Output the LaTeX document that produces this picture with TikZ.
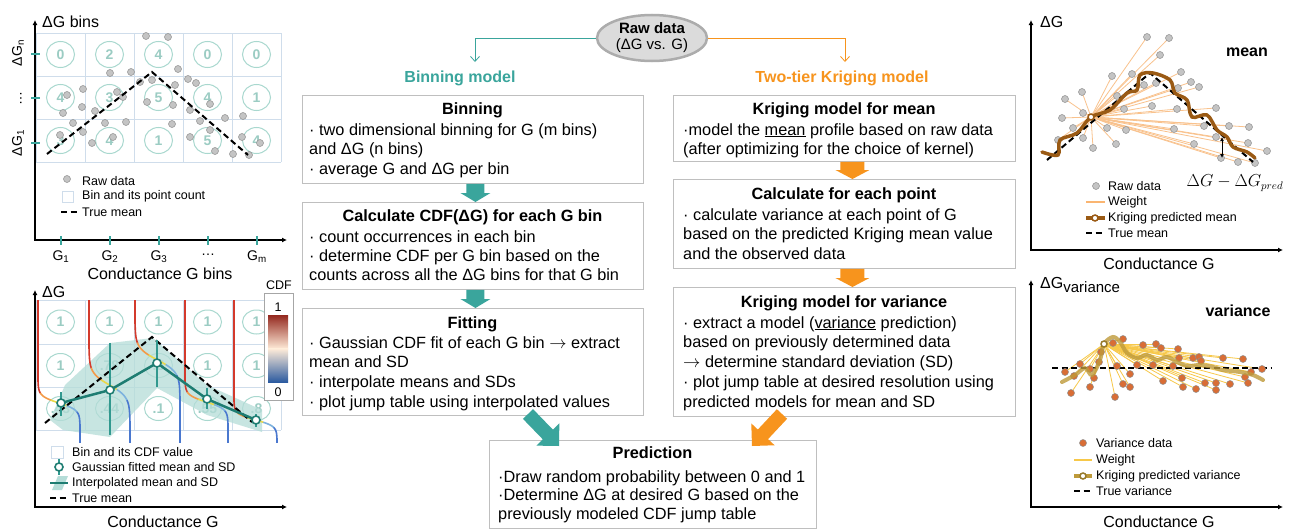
\documentclass[tikz,border=0pt]{standalone}
\usepackage{fontspec}
\setmainfont{Liberation Sans}
\usetikzlibrary{arrows.meta,shapes.geometric,calc}
\definecolor{tealA}{HTML}{3AA59C}
\definecolor{orng}{HTML}{F7941D}
\definecolor{gridc}{HTML}{CFDDEB}
\definecolor{circc}{HTML}{A9D8CF}
\definecolor{numc}{HTML}{9BCCC3}
\definecolor{dteal}{HTML}{1E7D72}
\definecolor{bandc}{HTML}{B5DDD8}
\definecolor{boxc}{HTML}{BFBFBF}
\definecolor{brownA}{HTML}{9A5A14}
\definecolor{wlo}{HTML}{F9C28D}
\definecolor{goldA}{HTML}{BE9A3A}
\definecolor{wly}{HTML}{F7C849}
\definecolor{dotv}{HTML}{D96D35}
\definecolor{dotg}{HTML}{C4C4C4}
\definecolor{dotgb}{HTML}{8F8F8F}
\definecolor{cdfR}{HTML}{D33A2C}
\definecolor{cdfO}{HTML}{F39A48}
\definecolor{cdfY}{HTML}{E9D84A}
\definecolor{cdfL}{HTML}{7DB2DE}
\definecolor{cdfB}{HTML}{4A78CF}
\definecolor{cbBlue}{HTML}{2C5BA0}
\newcommand{\sz}[1]{\fontsize{#1}{#1}\selectfont}
\newcommand{\rarr}{\ensuremath{\rightarrow}}
\tikzset{
 box/.style={draw=boxc, line width=0.9pt, fill=white, inner sep=0pt, anchor=north west},
 ttl/.style={font=\bfseries\sz{16.3}, inner sep=0pt, anchor=base},
 txt/.style={font=\sz{16.3}, inner sep=0pt, anchor=base west},
 lg/.style={font=\sz{12.5}, inner sep=0pt, anchor=west},
 axl/.style={font=\sz{16}, inner sep=0pt},
 num/.style={font=\bfseries\sz{14}, text=numc, inner sep=0pt},
 cell/.style={draw=gridc, line width=0.8pt},
 ring/.style={draw=circc, line width=1pt},
 axs/.style={line width=1.5pt, {Latex[length=5pt,width=5pt]}-{Latex[length=5pt,width=5pt]}},
 tmean/.style={black, line width=2pt, dash pattern=on 6pt off 3.5pt},
 gdot/.style={fill=dotg, draw=dotgb, line width=0.5pt},
 vdot/.style={fill=dotv, draw=dotgb, line width=0.5pt},
 tk/.style={tealA, line width=2pt},
 thinarr/.style={line width=0.8pt, -{Straight Barb[length=5pt,width=9pt]}},
}
\newcommand{\blines}[5]{\foreach \ln [count=\i] in {#5} \node[txt] (#1\i) at (#2,{#3+(\i-1)*#4}) {\ln};}
\newcommand{\blockarrow}[6]{%
 \coordinate (hb) at ($(#3)!#6!(#2)$);
 \fill[#1] ($(#2)!#4!90:(#3)$) -- ($(#2)!#4!-90:(#3)$) -- ($(hb)!#4!-90:(#3)$) -- ($(hb)!#5!-90:(#3)$) -- (#3) -- ($(hb)!#5!90:(#3)$) -- ($(hb)!#4!90:(#3)$) -- cycle;}
\newcommand{\cdfcurve}[4]{%
 \draw[cdfR, line width=1.6pt] (#1,300) -- (#1,#3-3*#4);
 \draw[cdfR, line width=1.6pt, line cap=round] plot[variable=\t, domain=#3-3*#4:#3-1.4*#4, samples=10] ({#1+#2*0.5*(1+tanh((\t-#3)/#4))},\t);
 \draw[cdfO, line width=1.6pt, line cap=round] plot[variable=\t, domain=#3-1.4*#4:#3-0.4*#4, samples=10] ({#1+#2*0.5*(1+tanh((\t-#3)/#4))},\t);
 \draw[cdfY, line width=1.6pt, line cap=round] plot[variable=\t, domain=#3-0.4*#4:#3+0.4*#4, samples=10] ({#1+#2*0.5*(1+tanh((\t-#3)/#4))},\t);
 \draw[cdfL, line width=1.6pt, line cap=round] plot[variable=\t, domain=#3+0.4*#4:#3+1.3*#4, samples=10] ({#1+#2*0.5*(1+tanh((\t-#3)/#4))},\t);
 \draw[cdfB, line width=1.6pt, line cap=round] plot[variable=\t, domain=#3+1.3*#4:#3+3*#4, samples=10] ({#1+#2*0.5*(1+tanh((\t-#3)/#4))},\t);
 \draw[cdfB, line width=1.6pt] (#1+#2,#3+3*#4) -- (#1+#2,443);}
\begin{document}
\begin{tikzpicture}[x=1pt,y=-1pt]
\useasboundingbox (0,0) rectangle (1294,530);
\fill[white] (0,0) rectangle (1294,530);

%================ TOP-LEFT PANEL
\foreach \x in {36,85,134,183,232,281} \draw[cell] (\x,33) -- (\x,162);
\foreach \y in {33,76,119,162} \draw[cell] (36,\y) -- (281,\y);
\foreach \yy in {54.5,97.5,140.5} \foreach \c in {1,...,5} \draw[ring] ({11.5+49*\c},\yy) ellipse [x radius=14pt, y radius=13pt];
\foreach \n [count=\c] in {0,2,4,0,0} \node[num] (ta1\c) at ({11.5+49*\c},54.5) {\n};
\foreach \n [count=\c] in {4,3,5,4,1} \node[num] (ta2\c) at ({11.5+49*\c},97.5) {\n};
\foreach \n [count=\c] in {3,4,1,5,4} \node[num] (ta3\c) at ({11.5+49*\c},140.5) {\n};
\foreach \p in {(146,36),(168,37),(178,69),(110,73),(131,72),(140,82),(152,80),(175,85),(188,79),(196,83),(83,89),(117,92),(123,97),(67,95),(82,107),(63,113),(95,111),(147,102),(173,105),(190,110),(210,104),(73,123),(83,132),(105,123),(126,122),(172,124),(200,121),(225,118),(243,116),(60,135),(92,143),(113,137),(190,137),(210,130),(242,137),(215,151),(233,154),(249,155),(260,143)}
  \filldraw[gdot] \p circle (3.5pt);
\draw[tmean] (47,154) -- (152,72) -- (248,155);
\draw[axs] (35,20) -- (35,240) -- (287,240);
\foreach \y in {54,98,143} \draw[tk] (31,\y) -- (40,\y);
\foreach \x in {61,110,159,208,257} \draw[tk] (\x,236) -- (\x,245);
\node[axl, anchor=west] (tlY) at (42,22) {ΔG bins};
\node[font=\sz{14}, rotate=90, inner sep=0pt] (tlYn) at (18,53) {ΔG\textsubscript{n}};
\node[font=\sz{14}, rotate=90, inner sep=0pt] (tlYd) at (21,98) {…};
\node[font=\sz{14}, rotate=90, inner sep=0pt] (tlY1) at (18,143) {ΔG\textsubscript{1}};
\node[font=\sz{14}, inner sep=0pt] (tlG1) at (61,257) {G\textsubscript{1}};
\node[font=\sz{14}, inner sep=0pt] (tlG2) at (110,257) {G\textsubscript{2}};
\node[font=\sz{14}, inner sep=0pt] (tlG3) at (159,257) {G\textsubscript{3}};
\node[font=\sz{14}, inner sep=0pt] (tlGd) at (208,255) {…};
\node[font=\sz{14}, inner sep=0pt] (tlGm) at (257,257) {G\textsubscript{m}};
\node[axl] (tlX) at (160,274) {Conductance G bins};
\filldraw[gdot] (67,179) circle (3.5pt);
\draw[cell] (62,191) rectangle (73,202);
\draw[tmean] (61,212) -- (77,212);
\node[lg] (tlL1) at (82,181) {Raw data};
\node[lg] (tlL2) at (82,196) {Bin and its point count};
\node[lg] (tlL3) at (82,212) {True mean};

%================ BOTTOM-LEFT PANEL
\foreach \x in {36,85,134,183,232,281} \draw[cell] (\x,300) -- (\x,430);
\foreach \y in {300,344,387,430} \draw[cell] (36,\y) -- (281,\y);
\foreach \yy in {322,365.5,408.5} \foreach \c in {1,...,5} \draw[ring] ({11.5+49*\c},\yy) ellipse [x radius=14pt, y radius=12pt];
\foreach \n [count=\c] in {1,1,1,1,1} \node[num] (tb1\c) at ({11.5+49*\c},322) {\n};
\foreach \n [count=\c] in {1,.78,.5,1,1} \node[num] (tb2\c) at ({11.5+49*\c},365.5) {\n};
\foreach \n [count=\c] in {.43,.44,.1,.55,.8} \node[num] (tb3\c) at ({11.5+49*\c},408.5) {\n};
\fill[bandc, opacity=0.75] (50,420) -- (65,385) -- (110,343) -- (153,338) -- (207,385) -- (262,410) -- (262,432) -- (207,415) -- (157,388) -- (110,437) -- (63,430) -- cycle;
\cdfcurve{38}{42}{403}{7}
\cdfcurve{89}{41}{385}{12}
\cdfcurve{135}{45}{360}{12}
\cdfcurve{185}{43}{402}{7}
\cdfcurve{234}{43}{420}{6}
\draw[tmean] (45,423) -- (152,337) -- (252,422);
\draw[dteal, line width=2.5pt] (61,403) -- (110,390) -- (157,363) -- (207,399) -- (256,420);
\draw[tealA!70!dteal, line width=2pt] (61,392) -- (61,416) (110,343) -- (110,435) (157,340) -- (157,387) (207,388) -- (207,409) (256,414) -- (256,427);
\foreach \p in {(61,403),(110,390),(157,363),(207,399),(256,420)} \filldraw[fill=white, draw=dteal, line width=1.6pt] \p circle (4pt);
\filldraw[fill=white, draw=gray!70, line width=1pt] (264,293) rectangle (293,400);
\shade[top color=cdfR!70!black, middle color=cdfR!80!orange, bottom color=orange!15!white] (268,315) rectangle (288,349);
\shade[top color=orange!15!white, middle color=cdfL, bottom color=cbBlue] (268,348.5) rectangle (288,382);
\node[font=\sz{12.5}, inner sep=0pt] (cbT) at (279,285) {CDF};
\node[font=\sz{12.5}, inner sep=0pt] (cb1) at (278,307) {1};
\node[font=\sz{12.5}, inner sep=0pt] (cb0) at (278,392) {0};
\draw[axs] (35,290) -- (35,507) -- (287,507);
\node[axl, anchor=west] (blY) at (42,292) {ΔG};
\node[axl] (blX) at (163,522) {Conductance G};
\draw[cell] (51,446) rectangle (63,458);
\draw[tealA!70!dteal, line width=2pt] (59,459) -- (59,475);
\filldraw[fill=white, draw=dteal, line width=1.6pt] (59,467) circle (4pt);
\fill[bandc] (52,490) -- (58,476) -- (68,476) -- (62,490) -- cycle;
\draw[dteal, line width=2.5pt] (50,483) -- (68,483);
\draw[tmean] (50,498) -- (68,498);
\node[lg] (blL1) at (72,452) {Bin and its CDF value};
\node[lg] (blL2) at (72,467) {Gaussian fitted mean and SD};
\node[lg] (blL3) at (72,483) {Interpolated mean and SD};
\node[lg] (blL4) at (72,498) {True mean};

%================ CENTER
\node[ellipse, draw=gray!65, fill=gray!28, line width=2.5pt, minimum width=110pt, minimum height=46pt, inner sep=-10pt, align=center, font=\sz{15}] (raw) at (652,38) {\textbf{Raw data}\\[1pt](ΔG vs. G)};
\node[font=\bfseries\sz{16}, text=tealA, inner sep=0pt] (binlab) at (460,78) {Binning model};
\node[font=\bfseries\sz{16}, text=orng, inner sep=0pt] (krilab) at (842,78) {Two-tier Kriging model};
\coordinate (bt) at (475,62);
\coordinate (kt) at (845,62);
\draw[tealA, thinarr] (raw.west) -| (bt);
\draw[orng, thinarr] (raw.east) -| (kt);

\node[box, minimum width=341pt, minimum height=88pt] (b1) at (302,95) {};
\node[box, minimum width=341pt, minimum height=87pt] (b2) at (302,202) {};
\node[box, minimum width=341pt, minimum height=107pt] (b3) at (302,308) {};
\node[box, minimum width=342pt, minimum height=66pt] (k1) at (673,95) {};
\node[box, minimum width=342pt, minimum height=89pt] (k2) at (673,179) {};
\node[box, minimum width=342pt, minimum height=129pt] (k3) at (673,287) {};
\node[box, minimum width=327pt, minimum height=88pt] (pr) at (489,440) {};

\coordinate (a1s) at ([xshift=2.5pt]b1.south);
\coordinate (a1e) at ([xshift=2.5pt]b2.north);
\coordinate (a2s) at ([xshift=2.5pt]b2.south);
\coordinate (a2e) at ([xshift=2.5pt]b3.north);
\coordinate (c1s) at ([xshift=8pt]k1.south);
\coordinate (c1e) at ([xshift=8pt]k2.north);
\coordinate (c2s) at ([xshift=8pt]k2.south);
\coordinate (c2e) at ([xshift=8pt]k3.north);
\blockarrow{tealA}{a1s}{a1e}{9pt}{15pt}{9pt}
\blockarrow{tealA}{a2s}{a2e}{9pt}{15pt}{9pt}
\blockarrow{orng}{c1s}{c1e}{12pt}{17pt}{9pt}
\blockarrow{orng}{c2s}{c2e}{12pt}{17pt}{9pt}
\coordinate (dA) at (528,414);
\coordinate (dB) at (559,446);
\coordinate (eA) at (782,414);
\coordinate (eB) at (752,446);
\blockarrow{tealA}{dA}{dB}{7pt}{16pt}{16pt}
\blockarrow{orng}{eA}{eB}{7pt}{16pt}{16pt}

\node[ttl] (b1t) at (472.5,114) {Binning};
\blines{b1l}{309}{135}{19.7}{{· two dimensional binning for G (m bins)},{and ΔG (n bins)},{· average G and ΔG per bin}}
\node[ttl] (b2t) at (472.5,221) {Calculate CDF(ΔG) for each G bin};
\blines{b2l}{309}{242}{19.4}{{· count occurrences in each bin},{· determine CDF per G bin based on the},{counts across all the ΔG bins for that G bin}}
\node[ttl] (b3t) at (472.5,328) {Fitting};
\blines{b3l}{309}{348}{19.8}{{· Gaussian CDF fit of each G bin \rarr{} extract},{mean and SD},{· interpolate means and SDs},{· plot jump table using interpolated values}}
\node[ttl] (k1t) at (844,114) {Kriging model for mean};
\blines{k1l}{683}{135}{19.7}{{·model the \underline{mean} profile based on raw data},{(after optimizing for the choice of kernel)}}
\node[ttl] (k2t) at (844,199) {Calculate for each point};
\blines{k2l}{683}{220}{19.6}{{· calculate variance at each point of G},{based on the predicted Kriging mean value},{and the observed data}}
\node[ttl] (k3t) at (844,307) {Kriging model for variance};
\blines{k3l}{683}{328}{19.8}{{· extract a model (\underline{variance} prediction)},{based on previously determined data},{\rarr{} determine standard deviation (SD)},{· plot jump table at desired resolution using},{predicted models for mean and SD}}
\node[ttl] (prt) at (652.5,458) {Prediction};
\blines{prl}{498}{482}{18.8}{{·Draw random probability between 0 and 1},{·Determine ΔG at desired G based on the},{previously modeled CDF jump table}}

%================ TOP-RIGHT PANEL (mean)
\coordinate (mc) at (1091,117);
\def\mdots{(1147,37),(1169,38),(1160,55),(1181,72),(1112,76),(1132,74),(1144,85),(1156,83),(1191,82),(1199,87),(1178,88),(1082,92),(1117,96),(1065,99),(1152,106),(1177,109),(1124,109),(1216,108),(1083,113),(1062,118),(1073,128),(1107,128),(1126,130),(1174,129),(1204,126),(1229,126),(1249,127),(1058,140),(1083,138),(1216,137),(1248,143),(1093,148),(1116,144),(1194,144),(1267,151),(1221,158),(1238,162),(1255,163)}
\foreach \p in \mdots \draw[wlo, line width=0.8pt] (mc) -- \p;
\foreach \p in \mdots \filldraw[gdot] \p circle (3.5pt);
\draw[tmean] (1047,160) -- (1150,73) -- (1253,162);
\draw[brownA, line width=3.5pt, line cap=round] plot[smooth, tension=0.55] coordinates {(1042,152) (1058,155) (1060,140) (1077,133) (1091,117) (1110,110) (1127,93) (1137,90) (1140,75) (1153,73) (1170,80) (1175,93) (1187,100) (1192,117) (1207,115) (1217,130) (1227,137) (1233,147) (1247,152) (1255,158)};
\filldraw[fill=white, draw=brownA, line width=1.5pt] (mc) circle (3pt);
\draw[line width=0.8pt, {Latex[length=4pt,width=4pt]}-{Latex[length=4pt,width=4pt]}] (1222,137) -- (1222,158);
\node[font=\sz{16}, inner sep=0pt] (dlab) at (1235,183) {$\Delta G-\Delta G_{pred}$};
\node[font=\bfseries\sz{16}, inner sep=0pt] (meanlab) at (1247,52) {mean};
\draw[axs] (1031,20) -- (1031,250) -- (1283,250);
\node[axl, anchor=west] (trY) at (1040,22) {ΔG};
\node[axl] (trX) at (1159,264) {Conductance G};
\filldraw[gdot] (1096,186) circle (3.5pt);
\draw[wlo!80!orange, line width=2pt] (1086,202) -- (1105,202);
\draw[brownA, line width=3.5pt] (1086,218) -- (1105,218);
\filldraw[fill=white, draw=brownA, line width=1.5pt] (1095,218) circle (3pt);
\draw[tmean] (1086,233) -- (1105,233);
\node[lg] (trL1) at (1108,186) {Raw data};
\node[lg] (trL2) at (1108,202) {Weight};
\node[lg] (trL3) at (1108,218) {Kriging predicted mean};
\node[lg] (trL4) at (1108,233) {True mean};

%================ BOTTOM-RIGHT PANEL (variance)
\coordinate (vc) at (1104,344);
\def\vdots{(1065,372),(1080,364),(1074,376),(1090,369),(1094,378),(1099,362),(1101,352),(1071,393),(1090,387),(1113,343),(1123,339),(1117,366),(1130,374),(1123,384),(1130,387),(1115,397),(1137,365),(1143,345),(1153,365),(1156,344),(1161,348),(1163,381),(1173,366),(1178,349),(1179,358),(1182,378),(1183,387),(1193,358),(1196,389),(1199,357),(1201,361),(1205,383),(1216,383),(1216,390),(1223,358),(1230,384),(1243,359),(1245,377),(1248,383),(1251,372),(1262,369)}
\foreach \p in \vdots \draw[wly, line width=0.8pt] (vc) -- \p;
\draw[tmean] (1052,368) -- (1272,368);
\foreach \p in \vdots \filldraw[vdot] \p circle (3.5pt);
\draw[goldA, opacity=0.8, line width=4pt, line cap=round] plot[smooth, tension=0.55] coordinates {(1062,382) (1075,375) (1085,368) (1092,375) (1100,360) (1104,344) (1113,337) (1120,342) (1127,353) (1137,358) (1147,355) (1157,360) (1167,357) (1177,362) (1187,366) (1200,365) (1213,367) (1223,370) (1240,372) (1253,375) (1263,380)};
\filldraw[fill=white, draw=goldA!80!black, line width=1.5pt] (vc) circle (3pt);
\node[font=\bfseries\sz{16}, inner sep=0pt] (varlab) at (1238,311) {variance};
\draw[axs] (1031,280) -- (1031,507) -- (1283,507);
\node[axl, anchor=west] (brY) at (1040,285) {ΔG\raisebox{-0.4ex}{\sz{15}variance}};
\node[axl] (brX) at (1159,522) {Conductance G};
\filldraw[vdot] (1083,443) circle (3.5pt);
\draw[wly, line width=2pt] (1074,460) -- (1092,460);
\draw[goldA, line width=3.5pt] (1074,476) -- (1092,476);
\filldraw[fill=white, draw=goldA!80!black, line width=1.5pt] (1083,476) circle (3pt);
\draw[tmean] (1074,491) -- (1092,491);
\node[lg] (brL1) at (1096,443) {Variance data};
\node[lg] (brL2) at (1096,460) {Weight};
\node[lg] (brL3) at (1096,476) {Kriging predicted variance};
\node[lg] (brL4) at (1096,491) {True variance};
\end{tikzpicture}
\end{document}
